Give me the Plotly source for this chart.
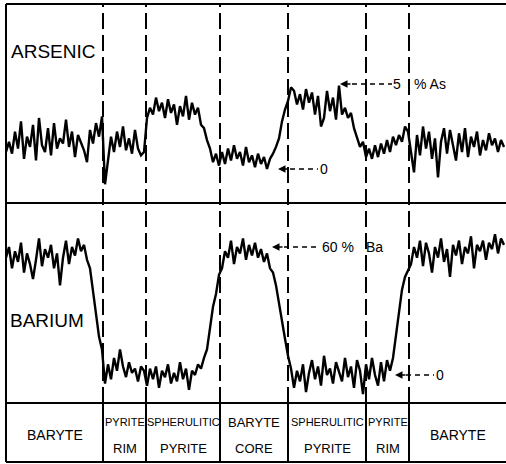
import plotly.graph_objects as go

# scan positions (arbitrary distance units along the traverse)
position = list(range(0, 499, 3))

# arsenic signal, % As (0 and 5 % reference levels marked on chart)
arsenic_pct = [
    1.0, 1.6, 0.9, 2.2, 1.2, 2.8, 0.6, 1.9, 1.3, 2.6,
    0.5, 3.0, 1.4, 1.0, 2.4, 0.8, 2.7, 1.2, 1.8, 1.5,
    2.9, 1.3, 2.2, 0.7, 2.0, 1.6, 1.1, 0.4, 2.3, 1.5,
    2.7, 1.9, 3.1,
    -0.9, 0.5, 1.9, 1.0, 2.2, 1.3, 2.5, 1.1, 1.8, 0.9, 2.3, 1.2, 0.8, 1.0,
    3.0, 3.6, 3.2, 4.2, 3.4, 3.9, 3.0, 4.1, 3.3, 3.8, 2.6, 3.7, 3.1, 4.3,
    2.9, 3.9, 3.2, 3.6, 2.6, 2.4, 1.7, 1.2, 0.4, 0.9, 0.2,
    1.0, 0.3, 1.2, 0.5, 1.4, 0.6, 1.0, 0.2, 1.3, 0.4, 0.8, 0.1, 0.9, 0.3,
    0.7, 0.0, 0.6, 0.9, 1.3,
    1.8, 2.8, 3.5, 4.0, 4.8, 4.6, 3.8, 4.4, 3.5, 4.7, 3.9, 4.5, 3.2, 4.3,
    2.5, 3.0, 4.6, 3.4, 4.2, 2.9, 4.9, 3.2, 3.6, 3.0, 3.3, 2.4, 1.9, 1.3,
    1.6, 0.7,
    1.2, 0.6, 1.4, 0.7, 1.5, 0.9, 1.7, 1.0, 1.9, 1.4, 2.0, 1.6, 2.5, 2.2,
    1.0, -0.2, 2.0, 0.8, 2.5, 1.2, 2.2, 0.6, 1.8, -0.5, 1.6, 2.4, 0.9, 2.3,
    1.4, 0.5, 2.1, 1.0, 2.4, 0.7, 1.9, 1.3, 2.2, 0.8, 1.7, 1.1, 2.1, 1.4,
    1.8, 1.0, 1.7, 1.3,
]

# barium signal, % Ba (0 and 60 % reference levels marked on chart)
barium_pct = [
    55, 60, 50, 58, 53, 62, 48, 57, 52, 45, 54, 64, 51, 59, 55, 61, 50, 57,
    42, 55, 63, 52, 60, 56, 64, 58, 61, 54,
    50, 40, 28, 18, 12,
    -4, 5, -2, 8, 2, 12, 4, -1, 6, 1, 3, -3, 4, 2,
    -5, 3, -2, 4, -6, 2, -1, 5, -4, 1, -3, 6, -2, 3, -7, 2, 0, 5, 3, 8,
    12, 22, 32, 38, 47,
    50, 58, 55, 63, 52, 60, 57, 64, 54, 61, 56, 62, 55, 59, 53, 57, 50,
    48, 42, 33, 26, 17, 9, 3,
    -6, 2, -3, 5, -8, 1, 7, -2, 4, -5, 9, 0, 3, -4, 6, 1, -3, 8, -1, 4,
    -6, 7, 2, -9, 5, -2, 8, 0, -5, 6, -3, 7, 2,
    8, 18, 30, 40, 46, 49,
    52, 60, 55, 63, 51, 62, 57, 48, 60, 55, 64, 53, 59, 46, 61, 56, 63, 52,
    60, 57, 65, 50, 61, 58, 63, 54, 62, 59, 66, 57, 64, 61,
]

# zone boundaries along the traverse and zone names
boundaries = [97, 140, 214, 282, 360, 403]
zone_top = ["BARYTE", "PYRITE", "SPHERULITIC", "BARYTE", "SPHERULITIC", "PYRITE", "BARYTE"]
zone_bottom = ["", "RIM", "PYRITE", "CORE", "PYRITE", "RIM", ""]

assert len(position) == len(arsenic_pct) == len(barium_pct)

W, H = 506, 464
FONT = "Liberation Sans"


def py(p):
    return 1 - p / H


def pxx(p):
    return p / W


fig = go.Figure()
fig.add_trace(go.Scatter(x=position, y=arsenic_pct, mode="lines",
                         line=dict(color="black", width=2.4), xaxis="x", yaxis="y",
                         hoverinfo="skip"))
fig.add_trace(go.Scatter(x=position, y=barium_pct, mode="lines",
                         line=dict(color="black", width=2.4), xaxis="x", yaxis="y2",
                         hoverinfo="skip"))

shapes = []
blk = dict(color="black", width=2)
# frame
shapes.append(dict(type="line", xref="paper", yref="paper", x0=pxx(6), x1=pxx(6), y0=py(462), y1=py(4), line=blk))
for yy in (4, 203, 403, 462):
    shapes.append(dict(type="line", xref="paper", yref="paper", x0=pxx(6), x1=1, y0=py(yy), y1=py(yy), line=blk))
# zone boundaries
for b in boundaries:
    shapes.append(dict(type="line", xref="x", yref="paper", x0=b, x1=b, y0=py(403), y1=py(4),
                       line=dict(color="black", width=2, dash="16px,6px")))
    shapes.append(dict(type="line", xref="x", yref="paper", x0=b, x1=b, y0=py(462), y1=py(403), line=blk))

dash_s = dict(color="black", width=1.5, dash="5px,4px")
# reference level leaders
shapes.append(dict(type="line", xref="x", yref="y", x0=346, x1=386, y0=5, y1=5, line=dash_s))
shapes.append(dict(type="line", xref="x", yref="y", x0=284, x1=312, y0=0, y1=0, line=dash_s))
shapes.append(dict(type="line", xref="x", yref="y2", x0=278, x1=312, y0=60, y1=60, line=dash_s))
shapes.append(dict(type="line", xref="x", yref="y2", x0=400, x1=428, y0=0, y1=0, line=dash_s))

ann = []
def arrow(x, y, yref):
    ann.append(dict(x=x, y=y, xref="x", yref=yref, ax=12, ay=0, text="", showarrow=True,
                    arrowhead=2, arrowsize=1, arrowwidth=1.5, arrowcolor="black"))

arrow(334, 5, "y")
arrow(272, 0, "y")
arrow(266, 60, "y2")
arrow(389, 0, "y2")

def label(text, x, y, xref="x", yref="paper", size=14, xanchor="center"):
    ann.append(dict(text=text, x=x, y=y, xref=xref, yref=yref, showarrow=False,
                    xanchor=xanchor, yanchor="middle",
                    font=dict(family=FONT, size=size, color="black")))

label("5", 391, 5, yref="y", size=14)
label("% As", 406, 5, yref="y", size=14, xanchor="left")
label("0", 318, 0, yref="y", size=14)
label("60 %", 314, 60, yref="y2", size=14, xanchor="left")
label("Ba", 358, 60, yref="y2", size=14, xanchor="left")
label("0", 434, 0, yref="y2", size=14)

label("ARSENIC", pxx(9), py(52), xref="paper", size=19, xanchor="left")
label("BARIUM", pxx(8), py(320), xref="paper", size=19, xanchor="left")

edges = [0] + boundaries + [500]
for i, (t, b) in enumerate(zip(zone_top, zone_bottom)):
    cx = (edges[i] + edges[i + 1]) / 2
    if b == "":
        label(t, cx, py(435), size=14)
    else:
        narrow = len(t) > 6 or (edges[i + 1] - edges[i]) < 50
        label(t, cx, py(422), size=11 if narrow else 13)
        label(b, cx, py(448), size=13)

fig.update_layout(
    width=W, height=H, margin=dict(l=0, r=0, t=0, b=0),
    paper_bgcolor="white", plot_bgcolor="white", showlegend=False,
    xaxis=dict(domain=[pxx(6), 1], range=[0, 500], visible=False),
    yaxis=dict(domain=[py(203), py(4)], range=[-2.0, 9.706], visible=False),
    yaxis2=dict(domain=[py(403), py(203)], range=[-13.125, 80.625], visible=False, anchor="x"),
    shapes=shapes, annotations=ann,
)

fig.write_html("out.html", config={"displayModeBar": False},
               post_script="document.body.style.margin='0';document.body.style.overflow='hidden';")
